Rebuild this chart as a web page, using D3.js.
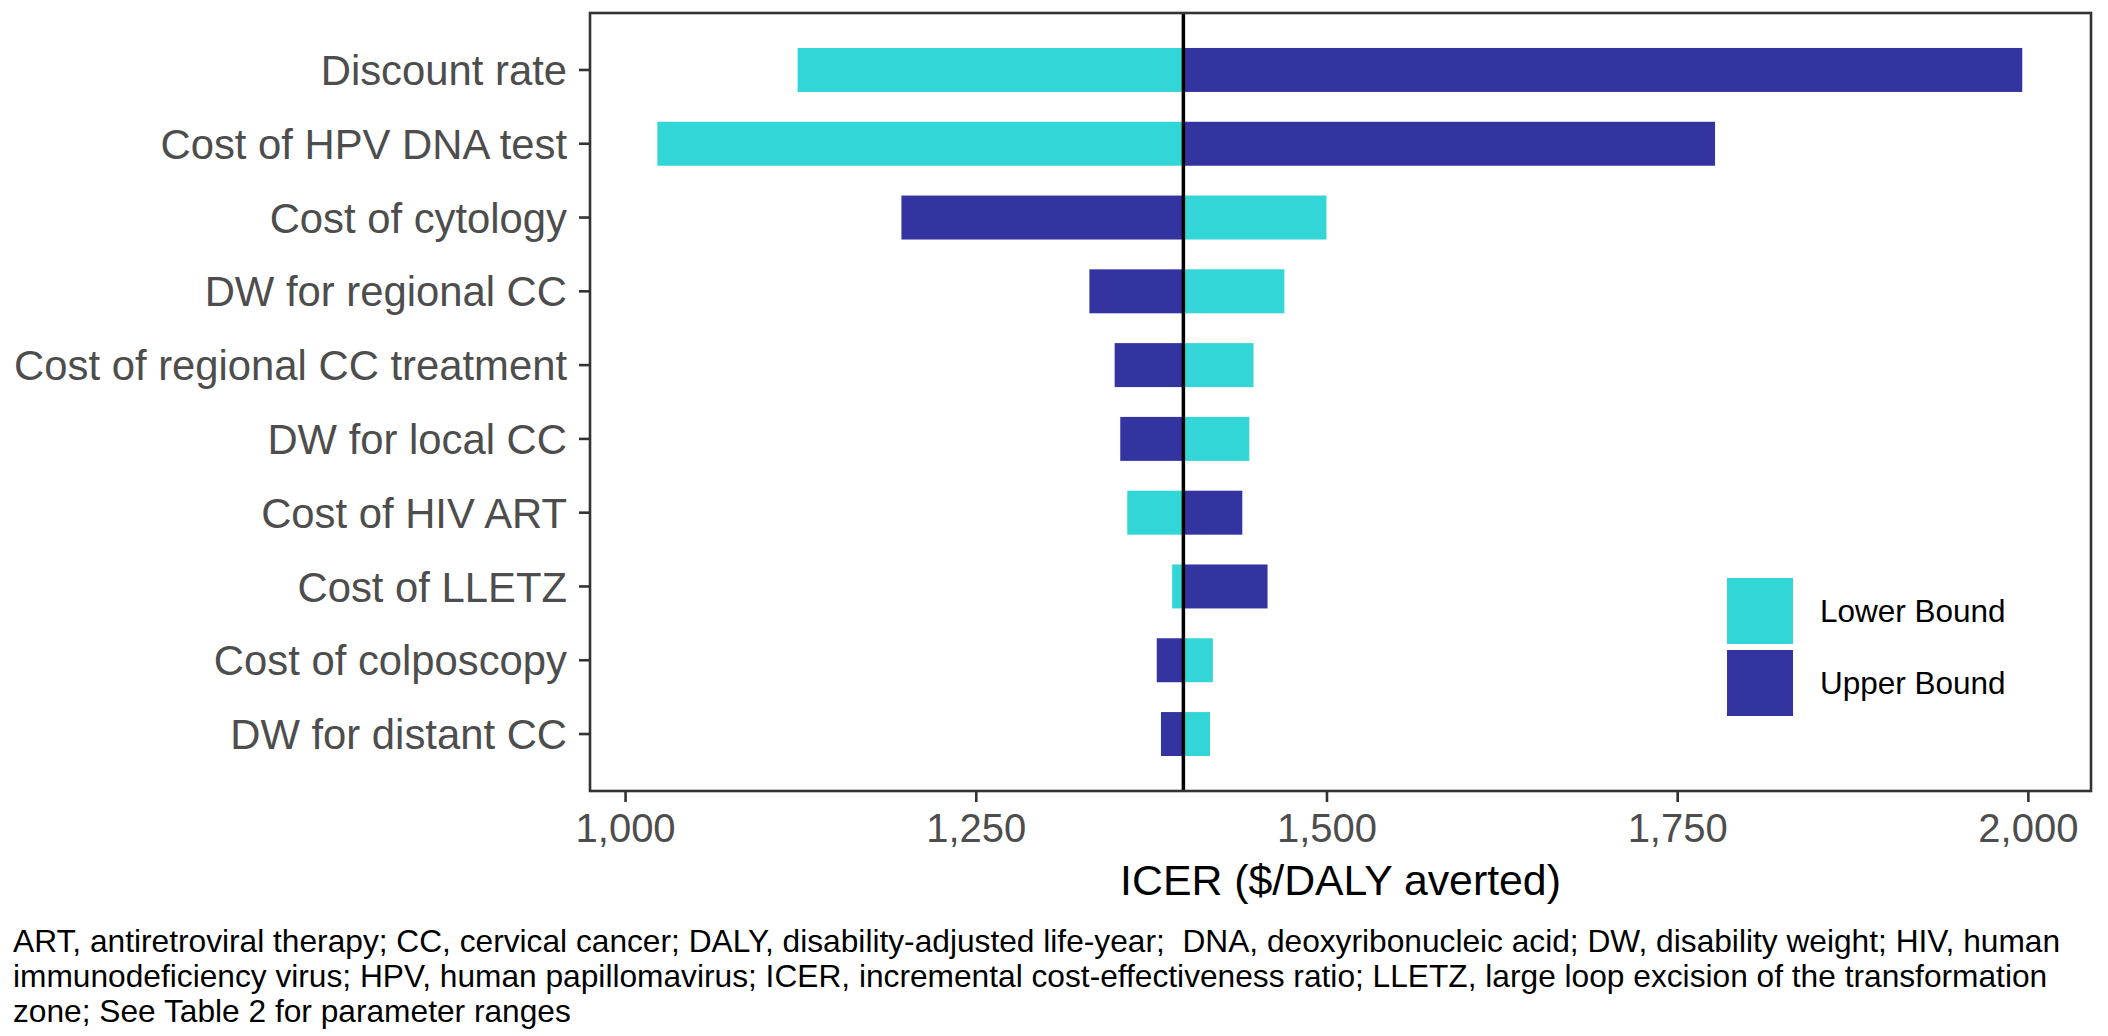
<!DOCTYPE html>
<html>
<head>
<meta charset="utf-8">
<script src="https://cdn.jsdelivr.net/npm/d3@7"></script>
<style>
  html, body { margin: 0; padding: 0; background: #ffffff; }
  svg { display: block; font-family: "Liberation Sans", Arial, sans-serif; }
</style>
</head>
<body>
<svg id="chart" width="2108" height="1036"></svg>
<script>
// ---- Data ----
const categories = [
  "Discount rate",
  "Cost of HPV DNA test",
  "Cost of cytology",
  "DW for regional CC",
  "Cost of regional CC treatment",
  "DW for local CC",
  "Cost of HIV ART",
  "Cost of LLETZ",
  "Cost of colposcopy",
  "DW for distant CC"
];
const lowerBound = [1123, 1023, 1500, 1470, 1448, 1445, 1358, 1390, 1419, 1417];
const upperBound = [1996, 1777, 1197, 1331, 1349, 1353, 1440, 1458, 1379, 1382];
const baseICER = 1398;
const xTicks = [1000, 1250, 1500, 1750, 2000];
const seriesNames = ["Lower Bound", "Upper Bound"];
const seriesColors = ["#33d6d6", "#3434a0"];
const xTitle = "ICER ($/DALY averted)";
const captionLines = [
  "ART, antiretroviral therapy; CC, cervical cancer; DALY, disability-adjusted life-year;  DNA, deoxyribonucleic acid; DW, disability weight; HIV, human",
  "immunodeficiency virus; HPV, human papillomavirus; ICER, incremental cost-effectiveness ratio; LLETZ, large loop excision of the transformation",
  "zone; See Table 2 for parameter ranges"
];

// ---- Layout ----
const svg = d3.select("#chart");
const panel = { left: 590, right: 2091, top: 13, bottom: 791 };

const x = d3.scaleLinear().domain([975, 2045]).range([panel.left, panel.right]);
const y = d3.scaleBand().domain(categories).range([panel.top, panel.bottom])
  .paddingInner(0.404).paddingOuter(0.474);
const color = d3.scaleOrdinal().domain(seriesNames).range(seriesColors);

// panel background
svg.append("rect")
  .attr("x", panel.left).attr("y", panel.top)
  .attr("width", panel.right - panel.left).attr("height", panel.bottom - panel.top)
  .attr("fill", "#ffffff");

// bars
const rows = categories.map((c, i) => ({ cat: c, lower: lowerBound[i], upper: upperBound[i] }));
const barData = [];
rows.forEach(r => {
  barData.push({ cat: r.cat, series: "Lower Bound", value: r.lower });
  barData.push({ cat: r.cat, series: "Upper Bound", value: r.upper });
});
svg.append("g").selectAll("rect").data(barData).join("rect")
  .attr("x", d => x(Math.min(d.value, baseICER)))
  .attr("width", d => Math.abs(x(d.value) - x(baseICER)))
  .attr("y", d => y(d.cat))
  .attr("height", y.bandwidth())
  .attr("fill", d => color(d.series));

// base line
svg.append("line")
  .attr("x1", x(baseICER)).attr("x2", x(baseICER))
  .attr("y1", panel.top).attr("y2", panel.bottom)
  .attr("stroke", "#000000").attr("stroke-width", 3.5);

// panel border
svg.append("rect")
  .attr("x", panel.left).attr("y", panel.top)
  .attr("width", panel.right - panel.left).attr("height", panel.bottom - panel.top)
  .attr("fill", "none").attr("stroke", "#333333").attr("stroke-width", 2.6);

// x axis
const fmt = d3.format(",");
const xAxis = svg.append("g")
  .attr("transform", `translate(0,${panel.bottom})`)
  .call(d3.axisBottom(x).tickValues(xTicks).tickFormat(fmt).tickSize(11).tickPadding(12));
xAxis.select(".domain").remove();
xAxis.selectAll(".tick line").attr("stroke", "#333333").attr("stroke-width", 2.6);
xAxis.selectAll(".tick text")
  .attr("fill", "#4d4d4d").attr("font-size", 40).attr("dy", "0.71em")
  .attr("font-family", "Liberation Sans, Arial, sans-serif");

// y axis
const yAxis = svg.append("g")
  .attr("transform", `translate(${panel.left},0)`)
  .call(d3.axisLeft(y).tickSize(11).tickPadding(12));
yAxis.select(".domain").remove();
yAxis.selectAll(".tick line").attr("stroke", "#333333").attr("stroke-width", 2.6);
yAxis.selectAll(".tick text")
  .attr("fill", "#4d4d4d").attr("font-size", 41.8).attr("dy", "0.36em")
  .attr("font-family", "Liberation Sans, Arial, sans-serif");

// x title
svg.append("text")
  .attr("x", (panel.left + panel.right) / 2).attr("y", 895)
  .attr("text-anchor", "middle").attr("font-size", 42.8).attr("fill", "#000000")
  .text(xTitle);

// legend
const legend = svg.append("g").attr("transform", "translate(1727,578)");
seriesNames.forEach((s, i) => {
  const g = legend.append("g").attr("transform", `translate(0,${i * 72})`);
  g.append("rect").attr("width", 66).attr("height", 66).attr("fill", color(s));
  g.append("text").attr("x", 93).attr("y", 33).attr("dy", "0.36em")
    .attr("font-size", 31.5).attr("fill", "#000000").text(s);
});

// caption
const cap = svg.append("text").attr("font-size", 31.7).attr("fill", "#000000")
  .attr("xml:space", "preserve").style("white-space", "pre");
captionLines.forEach((line, i) => {
  cap.append("tspan").attr("x", 13).attr("y", 952 + i * 35).text(line);
});
</script>
</body>
</html>
